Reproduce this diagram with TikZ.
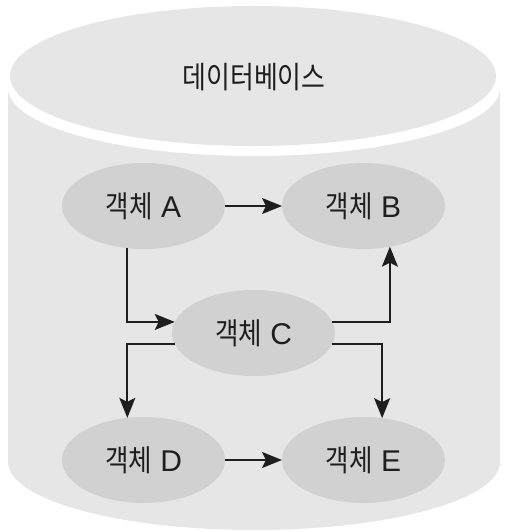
\documentclass[tikz,border=0pt]{standalone}
\usepackage{fontspec}
\setmainfont{Liberation Sans}
\newfontfamily\kfont{Noto Sans CJK KR}[FakeStretch=0.85]
\usetikzlibrary{shapes.geometric, arrows.meta}
\definecolor{dbgray}{HTML}{E6E6E6}
\definecolor{objgray}{HTML}{D1D1D1}
\definecolor{ink}{HTML}{1E1E1E}
\tikzset{
  obj/.style={ellipse, fill=objgray, inner sep=0pt, outer sep=0pt, minimum width=163pt, minimum height=86pt, text=ink, font=\fontsize{30}{36}\selectfont},
  link/.style={draw=ink, line width=1.8pt, -{Stealth[length=20pt, width=16pt, inset=4pt]}}
}
\begin{document}
\begin{tikzpicture}[x=1pt, y=-1pt]
	\useasboundingbox (0,0) rectangle (510,532);
	% cylinder
	\fill[dbgray] (8,88) rectangle (500,462);
	\fill[dbgray] (254,462) ellipse [x radius=246, y radius=68];
	\fill[white] (254,88) ellipse [x radius=246, y radius=68];
	\fill[dbgray] (253,76) ellipse [x radius=243, y radius=70];
	\node[text=ink, font=\kfont\fontsize{30.5}{36}\selectfont] (db) at (254,77) {데이터베이스};
	% objects
	\foreach \n/\x/\y in {A/143.5/206, B/363.5/206, C/253.5/333, D/143.5/460, E/363.5/460}
		\node[obj] (\n) at (\x,\y) {{\kfont 객체} \n};
	\draw[link] (A) -- (B);
	\draw[link] (D) -- (E);
	\draw[link] (A.249) |- (C.172);
	\draw[link] (C.8) -| (B.303);
	\draw[link] (C.188) -| (D.111);
	\draw[link] (C.352) -| (E.66);
\end{tikzpicture}
\end{document}
